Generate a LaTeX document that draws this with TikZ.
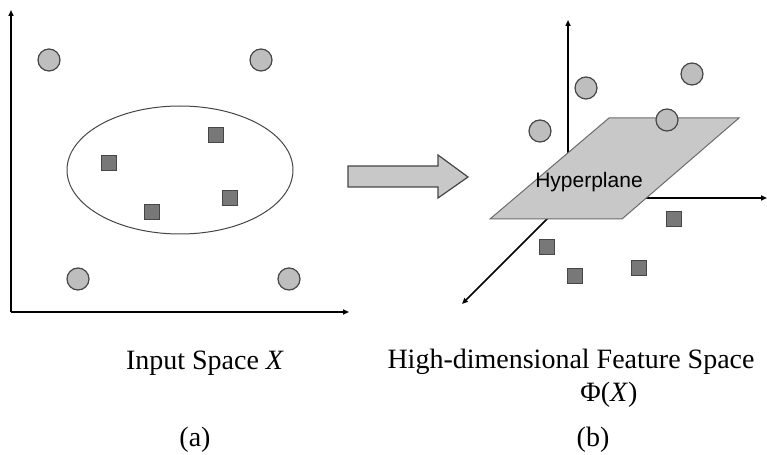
\documentclass[tikz,border=0pt]{standalone}
\usepackage{fontspec}
\setmainfont{Liberation Serif}
\newfontfamily\arialfont{Liberation Sans}
\usepackage{xcolor}
\definecolor{ptgray}{RGB}{190,190,190}
\definecolor{sqgray}{RGB}{120,120,120}
\definecolor{edgegray}{RGB}{70,70,70}
\definecolor{planegray}{RGB}{200,200,200}
\usepackage{tikz}
\usetikzlibrary{arrows.meta, positioning}

\tikzset{
  blob/.style={circle, draw=edgegray, fill=ptgray, line width=1.2bp, minimum size=22bp, inner sep=0pt},
  box/.style={rectangle, draw=edgegray, fill=sqgray, line width=1.1bp, minimum size=15bp, inner sep=0pt},
  axisline/.style={line width=1.8bp, -{Triangle[length=6bp,width=5bp]}},
  caption/.style={font=\fontsize{28bp}{32bp}\selectfont, inner sep=0pt}
}

\begin{document}
\begin{tikzpicture}[x=1bp, y=-1bp]
  \useasboundingbox (0,0) rectangle (767,455);

  % --- Panel (a): input space ---
  \coordinate (oa) at (11,312);
  \draw[axisline] (oa) -- (11,10);
  \draw[axisline] (oa) -- (349,312);
  \draw[line width=1bp, edgegray] (180,170) ellipse [x radius=113, y radius=64];
  \node[blob] (a1) at (49,60) {};
  \node[blob] (a2) at (261,60) {};
  \node[blob] (a3) at (78,279) {};
  \node[blob] (a4) at (289,279) {};
  \node[box] (s1) at (216,135) {};
  \node[box] (s2) at (109,163) {};
  \node[box] (s3) at (152,212) {};
  \node[box] (s4) at (230,198) {};

  % mapping arrow
  \draw[fill=planegray, draw=edgegray, line width=1.2bp, line join=miter]
    (348,166) -- (438,166) -- (438,155) -- (468,177) -- (438,198) -- (438,187) -- (348,187) -- cycle;

  % --- Panel (b): feature space ---
  \coordinate (ob) at (568,198);
  \draw[axisline, line width=1.5bp] (ob) -- (568,20);
  \draw[axisline, line width=1.5bp] (ob) -- (767,198);
  \draw[axisline, line width=1.5bp] (ob) -- (462,304);
  \draw[fill=planegray, draw=edgegray!80, line width=1bp]
    (490,219) -- (622,219) -- (739,118) -- (609,118) -- cycle;
  \node[font=\arialfont\fontsize{21bp}{24bp}\selectfont, inner sep=0pt] (hyp) at (589,182) {Hyperplane};
  \node[blob] (b1) at (586,88) {};
  \node[blob] (b2) at (692,74) {};
  \node[blob] (b3) at (540,131) {};
  \node[blob] (b4) at (667,120) {};
  \node[box] (t1) at (674,219) {};
  \node[box] (t2) at (547,247) {};
  \node[box] (t3) at (575,276) {};
  \node[box] (t4) at (639,268) {};

  % captions
  \node[caption] (capa) at (205,363) {Input Space \textit{X}};
  \node[caption] (capb) at (571,362) {High-dimensional Feature Space};
  \node[caption] (phi) at (609,395) {Φ(\textit{X})};
  \node[caption] (la) at (195,440) {(a)};
  \node[caption] (lb) at (593,440) {(b)};
\end{tikzpicture}
\end{document}
